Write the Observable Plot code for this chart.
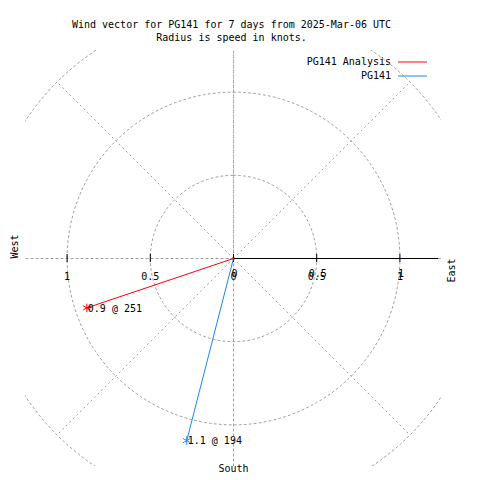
<!DOCTYPE html>
<html>
<head>
<meta charset="utf-8">
<script src="https://cdn.jsdelivr.net/npm/d3@7"></script>
<script src="https://cdn.jsdelivr.net/npm/@observablehq/plot@0.6"></script>
<style>
  body { margin: 0; background: white; }
</style>
</head>
<body>
<div id="chart"></div>
<script>
const titleLines = ["Wind vector for PG141 for 7 days from 2025-Mar-06 UTC", "Radius is speed in knots."];
const seriesNames = ["PG141 Analysis", "PG141"];
const seriesColors = ["#ff0000", "#1c86ee"];
const speeds = [0.93, 1.13];
const directions = [251.4, 194.4];
const ringRadii = [0.5, 1, 1.5];
const spokeAngles = [0, 45, 90, 135, 180, 225, 270, 315];
const xTicks = [-1, -0.5, 0, 0.5, 1];
const rTicks = [0, 0.5, 1];
const rMax = 1.23;
const extent = 1.25;

const rad = Math.PI / 180;
const vectors = speeds.map((s, i) => ({
  name: seriesNames[i], color: seriesColors[i], speed: s, dir: directions[i],
  x: s * Math.sin(directions[i] * rad), y: s * Math.cos(directions[i] * rad),
  label: `${s.toFixed(1)} @ ${Math.round(directions[i])}`
}));

const ringPts = ringRadii.flatMap(r => d3.range(0, 361, 2).map(a => ({r, x: r * Math.sin(a * rad), y: r * Math.cos(a * rad)})));
const spokes = spokeAngles.map(a => ({x: 1.5 * Math.sin(a * rad), y: 1.5 * Math.cos(a * rad)}));

const grid = {stroke: "#a0a0a0", strokeDasharray: "2,3", strokeWidth: 1, clip: true};

function legend(index, scales, values, dims) {
  const right = dims.width - dims.marginRight;
  const g = d3.create("svg:g");
  seriesNames.forEach((n, i) => {
    const y = dims.marginTop + 12 + 14 * i;
    g.append("text").attr("x", right - 50).attr("y", y).attr("dy", "0.32em")
      .attr("text-anchor", "end").attr("fill", "black").text(n);
    g.append("line").attr("x1", right - 43).attr("x2", right - 14)
      .attr("y1", y).attr("y2", y).attr("stroke", seriesColors[i]).attr("stroke-width", 1);
  });
  return g.node();
}

const plot = Plot.plot({
  width: 480, height: 480,
  marginLeft: 25, marginRight: 39, marginTop: 50, marginBottom: 14,
  x: {domain: [-extent, extent], axis: null},
  y: {domain: [-extent, extent], axis: null},
  color: {type: "identity"},
  style: {fontFamily: "DejaVu Sans Mono", fontSize: "10px", background: "white", color: "black"},
  marks: [
    Plot.line(ringPts, {x: "x", y: "y", z: "r", ...grid}),
    Plot.link(spokes, {x1: 0, y1: 0, x2: "x", y2: "y", ...grid}),
    Plot.link([0], {x1: -extent, x2: extent, y1: 0, y2: 0, ...grid}),
    Plot.link([0], {x1: 0, x2: 0, y1: -extent, y2: extent, ...grid}),
    Plot.link([0], {x1: 0, x2: rMax, y1: 0, y2: 0, stroke: "black", strokeWidth: 1}),
    Plot.ruleX(xTicks, {x: d => d, y1: 0, y2: 0, insetTop: -4, insetBottom: -4, stroke: "black"}),
    Plot.text(xTicks, {x: d => d, y: 0, text: d => String(Math.abs(d)), dy: 18}),
    Plot.text(rTicks, {x: d => d, y: 0, text: d => String(d), dy: 15.5, dx: 1}),
    Plot.link(vectors, {x1: 0, y1: 0, x2: "x", y2: "y", stroke: "color", strokeWidth: 1}),
    Plot.dot(vectors, {x: "x", y: "y", symbol: "asterisk", r: 4, stroke: "color", strokeWidth: 1}),
    Plot.text(vectors, {x: "x", y: "y", text: "label", textAnchor: "start", dx: 1, dy: 0.5, fill: "black"}),
    Plot.text(["West"], {frameAnchor: "left", text: d => d, rotate: -90, dx: -11}),
    Plot.text(["East"], {frameAnchor: "right", text: d => d, rotate: -90, dx: 10}),
    Plot.text(["South"], {frameAnchor: "bottom", text: d => d, dy: 5}),
    Plot.text([titleLines[0]], {frameAnchor: "top", text: d => d, dx: -2, dy: -30}),
    Plot.text([titleLines[1]], {frameAnchor: "top", text: d => d, dx: -2, dy: -17}),
    legend
  ]
});
document.getElementById("chart").appendChild(plot);
</script>
</body>
</html>
